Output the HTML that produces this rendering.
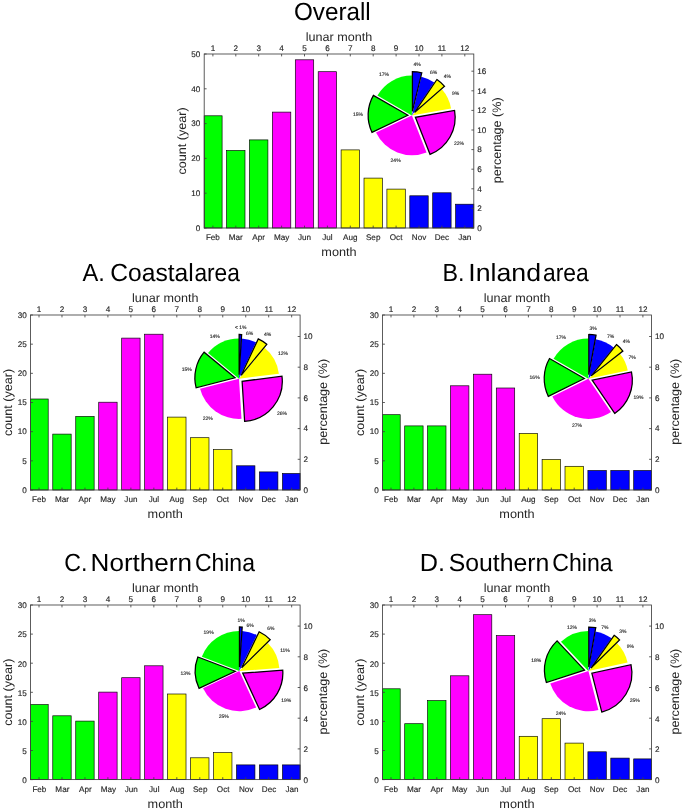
<!DOCTYPE html>
<html>
<head>
<meta charset="utf-8">
<title>Monthly counts</title>
<style>
html,body{margin:0;padding:0;background:#fff;}
svg{display:block;filter:blur(0.35px);}
text{font-family:"Liberation Sans", sans-serif;text-rendering:geometricPrecision;}
</style>
</head>
<body>
<svg width="685" height="811" viewBox="0 0 685 811" font-family='"Liberation Sans", sans-serif'>
<rect width="685" height="811" fill="#fff"/>
<!-- panel Overall -->
<rect x="204.2" y="115.8" width="17.9" height="112.2" fill="#00ff00" stroke="#000" stroke-width="0.65"/>
<rect x="226.6" y="150.5" width="18.4" height="77.5" fill="#00ff00" stroke="#000" stroke-width="0.65"/>
<rect x="249.5" y="139.9" width="18.4" height="88.1" fill="#00ff00" stroke="#000" stroke-width="0.65"/>
<rect x="272.4" y="112.1" width="18.4" height="115.9" fill="#ff00ff" stroke="#000" stroke-width="0.65"/>
<rect x="295.3" y="59.8" width="18.4" height="168.2" fill="#ff00ff" stroke="#000" stroke-width="0.65"/>
<rect x="318.2" y="71.7" width="18.4" height="156.3" fill="#ff00ff" stroke="#000" stroke-width="0.65"/>
<rect x="341.1" y="149.9" width="18.4" height="78.1" fill="#ffff00" stroke="#000" stroke-width="0.65"/>
<rect x="364" y="178.1" width="18.4" height="49.9" fill="#ffff00" stroke="#000" stroke-width="0.65"/>
<rect x="386.9" y="189.1" width="18.4" height="38.9" fill="#ffff00" stroke="#000" stroke-width="0.65"/>
<rect x="409.8" y="195.8" width="18.4" height="32.2" fill="#0000ff" stroke="#000" stroke-width="0.65"/>
<rect x="432.7" y="192.8" width="18.4" height="35.2" fill="#0000ff" stroke="#000" stroke-width="0.65"/>
<rect x="455.6" y="204.2" width="18.2" height="23.8" fill="#0000ff" stroke="#000" stroke-width="0.65"/>
<path d="M411.9 115.4L411.9 75.6A39.8 39.8 0 0 0 377.39 95.57Z" fill="#00ff00"/>
<path d="M411.9 115.4L376 132.57A39.8 39.8 0 0 0 426.55 152.41Z" fill="#ff00ff"/>
<path d="M411.9 115.4L451.09 108.43A39.8 39.8 0 0 0 441.92 89.27Z" fill="#ffff00"/>
<path d="M411.9 115.4L434.27 82.48A39.8 39.8 0 0 0 421.31 76.73Z" fill="#0000ff"/>
<path d="M407.92 115.25L373.41 95.42A39.8 39.8 0 0 0 372.02 132.42Z" fill="#00ff00" stroke="#000" stroke-width="1.25" stroke-linejoin="miter"/>
<path d="M415.38 117.34L430.03 154.34A39.8 39.8 0 0 0 454.56 110.37Z" fill="#ff00ff" stroke="#000" stroke-width="1.25" stroke-linejoin="miter"/>
<path d="M414.54 112.42L444.56 86.29A39.8 39.8 0 0 0 436.91 79.51Z" fill="#ffff00" stroke="#000" stroke-width="1.25" stroke-linejoin="miter"/>
<path d="M412.37 111.45L421.79 72.78A39.8 39.8 0 0 0 412.37 71.65Z" fill="#0000ff" stroke="#000" stroke-width="1.25" stroke-linejoin="miter"/>
<rect x="204.2" y="54" width="269.6" height="174" fill="none" stroke="#404040" stroke-width="0.85"/>
<path d="M212.9 228v-2.4M212.9 54v2.4M235.8 228v-2.4M235.8 54v2.4M258.7 228v-2.4M258.7 54v2.4M281.6 228v-2.4M281.6 54v2.4M304.5 228v-2.4M304.5 54v2.4M327.4 228v-2.4M327.4 54v2.4M350.3 228v-2.4M350.3 54v2.4M373.2 228v-2.4M373.2 54v2.4M396.1 228v-2.4M396.1 54v2.4M419 228v-2.4M419 54v2.4M441.9 228v-2.4M441.9 54v2.4M464.8 228v-2.4M464.8 54v2.4M204.2 228h2.4M204.2 193.2h2.4M204.2 158.4h2.4M204.2 123.6h2.4M204.2 88.8h2.4M204.2 54h2.4M473.8 228h-2.4M473.8 208.4h-2.4M473.8 188.8h-2.4M473.8 169.2h-2.4M473.8 149.6h-2.4M473.8 130h-2.4M473.8 110.4h-2.4M473.8 90.8h-2.4M473.8 71.2h-2.4" stroke="#404040" stroke-width="0.85" fill="none"/>
<!-- panel A -->
<rect x="30.5" y="399" width="17.7" height="91" fill="#00ff00" stroke="#000" stroke-width="0.65"/>
<rect x="52.77" y="434.1" width="18.4" height="55.9" fill="#00ff00" stroke="#000" stroke-width="0.65"/>
<rect x="75.74" y="416.4" width="18.4" height="73.6" fill="#00ff00" stroke="#000" stroke-width="0.65"/>
<rect x="98.71" y="402.2" width="18.4" height="87.8" fill="#ff00ff" stroke="#000" stroke-width="0.65"/>
<rect x="121.68" y="338.1" width="18.4" height="151.9" fill="#ff00ff" stroke="#000" stroke-width="0.65"/>
<rect x="144.65" y="334.2" width="18.4" height="155.8" fill="#ff00ff" stroke="#000" stroke-width="0.65"/>
<rect x="167.62" y="417.1" width="18.4" height="72.9" fill="#ffff00" stroke="#000" stroke-width="0.65"/>
<rect x="190.59" y="437.7" width="18.4" height="52.3" fill="#ffff00" stroke="#000" stroke-width="0.65"/>
<rect x="213.56" y="449.6" width="18.4" height="40.4" fill="#ffff00" stroke="#000" stroke-width="0.65"/>
<rect x="236.53" y="465.8" width="18.4" height="24.2" fill="#0000ff" stroke="#000" stroke-width="0.65"/>
<rect x="259.5" y="471.9" width="18.4" height="18.1" fill="#0000ff" stroke="#000" stroke-width="0.65"/>
<rect x="282.47" y="473.5" width="17.63" height="16.5" fill="#0000ff" stroke="#000" stroke-width="0.65"/>
<path d="M239 378.7L239 338.5A40.2 40.2 0 0 0 208.03 353.08Z" fill="#00ff00"/>
<path d="M239 378.7L200.06 388.7A40.2 40.2 0 0 0 241.52 418.82Z" fill="#ff00ff"/>
<path d="M239 378.7L278.88 373.66A40.2 40.2 0 0 0 264.62 347.73Z" fill="#ffff00"/>
<path d="M239 378.7L256.12 342.33A40.2 40.2 0 0 0 241.52 338.58Z" fill="#0000ff"/>
<path d="M235.08 377.82L204.1 352.2A40.2 40.2 0 0 0 196.14 387.82Z" fill="#00ff00" stroke="#000" stroke-width="1.25" stroke-linejoin="miter"/>
<path d="M242.1 381.26L244.62 421.38A40.2 40.2 0 0 0 281.98 376.22Z" fill="#ff00ff" stroke="#000" stroke-width="1.25" stroke-linejoin="miter"/>
<path d="M241.15 375.31L266.78 344.33A40.2 40.2 0 0 0 258.27 338.93Z" fill="#ffff00" stroke="#000" stroke-width="1.25" stroke-linejoin="miter"/>
<path d="M239.13 374.68L241.65 334.56A40.2 40.2 0 0 0 239.13 334.48Z" fill="#0000ff" stroke="#000" stroke-width="1.25" stroke-linejoin="miter"/>
<rect x="30.5" y="315" width="269.6" height="175" fill="none" stroke="#404040" stroke-width="0.85"/>
<path d="M39 490v-2.4M39 315v2.4M61.97 490v-2.4M61.97 315v2.4M84.94 490v-2.4M84.94 315v2.4M107.91 490v-2.4M107.91 315v2.4M130.88 490v-2.4M130.88 315v2.4M153.85 490v-2.4M153.85 315v2.4M176.82 490v-2.4M176.82 315v2.4M199.79 490v-2.4M199.79 315v2.4M222.76 490v-2.4M222.76 315v2.4M245.73 490v-2.4M245.73 315v2.4M268.7 490v-2.4M268.7 315v2.4M291.67 490v-2.4M291.67 315v2.4M30.5 490h2.4M30.5 460.83h2.4M30.5 431.67h2.4M30.5 402.5h2.4M30.5 373.33h2.4M30.5 344.17h2.4M30.5 315h2.4M300.1 490h-2.4M300.1 459.3h-2.4M300.1 428.6h-2.4M300.1 397.9h-2.4M300.1 367.2h-2.4M300.1 336.5h-2.4" stroke="#404040" stroke-width="0.85" fill="none"/>
<!-- panel B -->
<rect x="382.5" y="414.7" width="17.7" height="75.3" fill="#00ff00" stroke="#000" stroke-width="0.65"/>
<rect x="404.7" y="425.9" width="18.4" height="64.1" fill="#00ff00" stroke="#000" stroke-width="0.65"/>
<rect x="427.6" y="425.9" width="18.4" height="64.1" fill="#00ff00" stroke="#000" stroke-width="0.65"/>
<rect x="450.5" y="385.8" width="18.4" height="104.2" fill="#ff00ff" stroke="#000" stroke-width="0.65"/>
<rect x="473.4" y="374.2" width="18.4" height="115.8" fill="#ff00ff" stroke="#000" stroke-width="0.65"/>
<rect x="496.3" y="388" width="18.4" height="102" fill="#ff00ff" stroke="#000" stroke-width="0.65"/>
<rect x="519.2" y="433.5" width="18.4" height="56.5" fill="#ffff00" stroke="#000" stroke-width="0.65"/>
<rect x="542.1" y="459.5" width="18.4" height="30.5" fill="#ffff00" stroke="#000" stroke-width="0.65"/>
<rect x="565" y="466.3" width="18.4" height="23.7" fill="#ffff00" stroke="#000" stroke-width="0.65"/>
<rect x="587.9" y="470.5" width="18.4" height="19.5" fill="#0000ff" stroke="#000" stroke-width="0.65"/>
<rect x="610.8" y="470.5" width="18.4" height="19.5" fill="#0000ff" stroke="#000" stroke-width="0.65"/>
<rect x="633.7" y="470.5" width="17.8" height="19.5" fill="#0000ff" stroke="#000" stroke-width="0.65"/>
<path d="M588.4 378.7L588.4 338.5A40.2 40.2 0 0 0 553.54 358.67Z" fill="#00ff00"/>
<path d="M588.4 378.7L552.36 396.5A40.2 40.2 0 0 0 611 411.95Z" fill="#ff00ff"/>
<path d="M588.4 378.7L627.74 370.42A40.2 40.2 0 0 0 620.01 353.86Z" fill="#ffff00"/>
<path d="M588.4 378.7L613.63 347.41A40.2 40.2 0 0 0 595.68 339.17Z" fill="#0000ff"/>
<path d="M584.38 378.57L549.53 358.55A40.2 40.2 0 0 0 548.34 396.37Z" fill="#00ff00" stroke="#000" stroke-width="1.25" stroke-linejoin="miter"/>
<path d="M592.13 380.2L614.72 413.45A40.2 40.2 0 0 0 631.47 371.93Z" fill="#ff00ff" stroke="#000" stroke-width="1.25" stroke-linejoin="miter"/>
<path d="M591.26 375.88L622.87 351.04A40.2 40.2 0 0 0 616.49 344.58Z" fill="#ffff00" stroke="#000" stroke-width="1.25" stroke-linejoin="miter"/>
<path d="M588.77 374.7L596.05 335.16A40.2 40.2 0 0 0 588.77 334.5Z" fill="#0000ff" stroke="#000" stroke-width="1.25" stroke-linejoin="miter"/>
<rect x="382.5" y="315" width="269" height="175" fill="none" stroke="#404040" stroke-width="0.85"/>
<path d="M391 490v-2.4M391 315v2.4M413.9 490v-2.4M413.9 315v2.4M436.8 490v-2.4M436.8 315v2.4M459.7 490v-2.4M459.7 315v2.4M482.6 490v-2.4M482.6 315v2.4M505.5 490v-2.4M505.5 315v2.4M528.4 490v-2.4M528.4 315v2.4M551.3 490v-2.4M551.3 315v2.4M574.2 490v-2.4M574.2 315v2.4M597.1 490v-2.4M597.1 315v2.4M620 490v-2.4M620 315v2.4M642.9 490v-2.4M642.9 315v2.4M382.5 490h2.4M382.5 460.83h2.4M382.5 431.67h2.4M382.5 402.5h2.4M382.5 373.33h2.4M382.5 344.17h2.4M382.5 315h2.4M651.5 490h-2.4M651.5 459.3h-2.4M651.5 428.6h-2.4M651.5 397.9h-2.4M651.5 367.2h-2.4M651.5 336.5h-2.4" stroke="#404040" stroke-width="0.85" fill="none"/>
<!-- panel C -->
<rect x="30.5" y="704.6" width="17.7" height="75" fill="#00ff00" stroke="#000" stroke-width="0.65"/>
<rect x="52.77" y="715.8" width="18.4" height="63.8" fill="#00ff00" stroke="#000" stroke-width="0.65"/>
<rect x="75.74" y="721.1" width="18.4" height="58.5" fill="#00ff00" stroke="#000" stroke-width="0.65"/>
<rect x="98.71" y="692.1" width="18.4" height="87.5" fill="#ff00ff" stroke="#000" stroke-width="0.65"/>
<rect x="121.68" y="677.7" width="18.4" height="101.9" fill="#ff00ff" stroke="#000" stroke-width="0.65"/>
<rect x="144.65" y="665.8" width="18.4" height="113.8" fill="#ff00ff" stroke="#000" stroke-width="0.65"/>
<rect x="167.62" y="694" width="18.4" height="85.6" fill="#ffff00" stroke="#000" stroke-width="0.65"/>
<rect x="190.59" y="757.8" width="18.4" height="21.8" fill="#ffff00" stroke="#000" stroke-width="0.65"/>
<rect x="213.56" y="752.6" width="18.4" height="27" fill="#ffff00" stroke="#000" stroke-width="0.65"/>
<rect x="236.53" y="764.9" width="18.4" height="14.7" fill="#0000ff" stroke="#000" stroke-width="0.65"/>
<rect x="259.5" y="764.9" width="18.4" height="14.7" fill="#0000ff" stroke="#000" stroke-width="0.65"/>
<rect x="282.47" y="764.9" width="17.63" height="14.7" fill="#0000ff" stroke="#000" stroke-width="0.65"/>
<path d="M239.3 671.1L239.3 631A40.1 40.1 0 0 0 201.83 656.81Z" fill="#00ff00"/>
<path d="M239.3 671.1L203.02 688.17A40.1 40.1 0 0 0 256.15 707.49Z" fill="#ff00ff"/>
<path d="M239.3 671.1L279.29 668.08A40.1 40.1 0 0 0 267.83 642.92Z" fill="#ffff00"/>
<path d="M239.3 671.1L256.83 635.03A40.1 40.1 0 0 0 242.07 631.1Z" fill="#0000ff"/>
<path d="M235.29 671.25L197.83 656.96A40.1 40.1 0 0 0 199.01 688.32Z" fill="#00ff00" stroke="#000" stroke-width="1.25" stroke-linejoin="miter"/>
<path d="M242.76 673.13L259.6 709.52A40.1 40.1 0 0 0 282.74 670.11Z" fill="#ff00ff" stroke="#000" stroke-width="1.25" stroke-linejoin="miter"/>
<path d="M241.64 667.84L270.17 639.66A40.1 40.1 0 0 0 259.16 631.77Z" fill="#ffff00" stroke="#000" stroke-width="1.25" stroke-linejoin="miter"/>
<path d="M239.44 667.09L242.21 627.09A40.1 40.1 0 0 0 239.44 626.99Z" fill="#0000ff" stroke="#000" stroke-width="1.25" stroke-linejoin="miter"/>
<rect x="30.5" y="605" width="269.6" height="174.6" fill="none" stroke="#404040" stroke-width="0.85"/>
<path d="M39 779.6v-2.4M39 605v2.4M61.97 779.6v-2.4M61.97 605v2.4M84.94 779.6v-2.4M84.94 605v2.4M107.91 779.6v-2.4M107.91 605v2.4M130.88 779.6v-2.4M130.88 605v2.4M153.85 779.6v-2.4M153.85 605v2.4M176.82 779.6v-2.4M176.82 605v2.4M199.79 779.6v-2.4M199.79 605v2.4M222.76 779.6v-2.4M222.76 605v2.4M245.73 779.6v-2.4M245.73 605v2.4M268.7 779.6v-2.4M268.7 605v2.4M291.67 779.6v-2.4M291.67 605v2.4M30.5 779.6h2.4M30.5 750.5h2.4M30.5 721.4h2.4M30.5 692.3h2.4M30.5 663.2h2.4M30.5 634.1h2.4M30.5 605h2.4M300.1 779.6h-2.4M300.1 748.9h-2.4M300.1 718.2h-2.4M300.1 687.5h-2.4M300.1 656.8h-2.4M300.1 626.1h-2.4" stroke="#404040" stroke-width="0.85" fill="none"/>
<!-- panel D -->
<rect x="382.5" y="688.8" width="17.7" height="90.8" fill="#00ff00" stroke="#000" stroke-width="0.65"/>
<rect x="404.7" y="723.7" width="18.4" height="55.9" fill="#00ff00" stroke="#000" stroke-width="0.65"/>
<rect x="427.6" y="700.6" width="18.4" height="79" fill="#00ff00" stroke="#000" stroke-width="0.65"/>
<rect x="450.5" y="675.8" width="18.4" height="103.8" fill="#ff00ff" stroke="#000" stroke-width="0.65"/>
<rect x="473.4" y="614.7" width="18.4" height="164.9" fill="#ff00ff" stroke="#000" stroke-width="0.65"/>
<rect x="496.3" y="635.6" width="18.4" height="144" fill="#ff00ff" stroke="#000" stroke-width="0.65"/>
<rect x="519.2" y="736.3" width="18.4" height="43.3" fill="#ffff00" stroke="#000" stroke-width="0.65"/>
<rect x="542.1" y="718.7" width="18.4" height="60.9" fill="#ffff00" stroke="#000" stroke-width="0.65"/>
<rect x="565" y="743.1" width="18.4" height="36.5" fill="#ffff00" stroke="#000" stroke-width="0.65"/>
<rect x="587.9" y="751.8" width="18.4" height="27.8" fill="#0000ff" stroke="#000" stroke-width="0.65"/>
<rect x="610.8" y="758.1" width="18.4" height="21.5" fill="#0000ff" stroke="#000" stroke-width="0.65"/>
<rect x="633.7" y="758.9" width="17.8" height="20.7" fill="#0000ff" stroke="#000" stroke-width="0.65"/>
<path d="M588.4 671.1L588.4 631A40.1 40.1 0 0 0 560.95 641.87Z" fill="#00ff00"/>
<path d="M588.4 671.1L550.26 683.49A40.1 40.1 0 0 0 598.37 709.94Z" fill="#ff00ff"/>
<path d="M588.4 671.1L627.59 662.6A40.1 40.1 0 0 0 616.93 642.92Z" fill="#ffff00"/>
<path d="M588.4 671.1L611.56 638.36A40.1 40.1 0 0 0 595.42 631.62Z" fill="#0000ff"/>
<path d="M584.52 670.1L557.07 640.87A40.1 40.1 0 0 0 546.38 682.49Z" fill="#00ff00" stroke="#000" stroke-width="1.25" stroke-linejoin="miter"/>
<path d="M591.81 673.21L601.78 712.05A40.1 40.1 0 0 0 631 664.7Z" fill="#ff00ff" stroke="#000" stroke-width="1.25" stroke-linejoin="miter"/>
<path d="M590.99 668.04L619.53 639.87A40.1 40.1 0 0 0 614.16 635.31Z" fill="#ffff00" stroke="#000" stroke-width="1.25" stroke-linejoin="miter"/>
<path d="M588.75 667.11L595.77 627.62A40.1 40.1 0 0 0 588.75 627.01Z" fill="#0000ff" stroke="#000" stroke-width="1.25" stroke-linejoin="miter"/>
<rect x="382.5" y="605" width="269" height="174.6" fill="none" stroke="#404040" stroke-width="0.85"/>
<path d="M391 779.6v-2.4M391 605v2.4M413.9 779.6v-2.4M413.9 605v2.4M436.8 779.6v-2.4M436.8 605v2.4M459.7 779.6v-2.4M459.7 605v2.4M482.6 779.6v-2.4M482.6 605v2.4M505.5 779.6v-2.4M505.5 605v2.4M528.4 779.6v-2.4M528.4 605v2.4M551.3 779.6v-2.4M551.3 605v2.4M574.2 779.6v-2.4M574.2 605v2.4M597.1 779.6v-2.4M597.1 605v2.4M620 779.6v-2.4M620 605v2.4M642.9 779.6v-2.4M642.9 605v2.4M382.5 779.6h2.4M382.5 750.5h2.4M382.5 721.4h2.4M382.5 692.3h2.4M382.5 663.2h2.4M382.5 634.1h2.4M382.5 605h2.4M651.5 779.6h-2.4M651.5 748.9h-2.4M651.5 718.2h-2.4M651.5 687.5h-2.4M651.5 656.8h-2.4M651.5 626.1h-2.4" stroke="#404040" stroke-width="0.85" fill="none"/>
<g style="will-change:transform;filter:grayscale(1)">
<text x="417.2" y="66.4" font-size="5" text-anchor="middle" fill="#1a1a1a" stroke="#1a1a1a" stroke-width="0.12">4%</text>
<text x="433.5" y="74" font-size="5" text-anchor="middle" fill="#1a1a1a" stroke="#1a1a1a" stroke-width="0.12">6%</text>
<text x="447.3" y="78.2" font-size="5" text-anchor="middle" fill="#1a1a1a" stroke="#1a1a1a" stroke-width="0.12">4%</text>
<text x="455.7" y="95.3" font-size="5" text-anchor="middle" fill="#1a1a1a" stroke="#1a1a1a" stroke-width="0.12">9%</text>
<text x="458.9" y="144.9" font-size="5" text-anchor="middle" fill="#1a1a1a" stroke="#1a1a1a" stroke-width="0.12">22%</text>
<text x="395.6" y="162.1" font-size="5" text-anchor="middle" fill="#1a1a1a" stroke="#1a1a1a" stroke-width="0.12">24%</text>
<text x="358" y="116.1" font-size="5" text-anchor="middle" fill="#1a1a1a" stroke="#1a1a1a" stroke-width="0.12">15%</text>
<text x="383.9" y="75.7" font-size="5" text-anchor="middle" fill="#1a1a1a" stroke="#1a1a1a" stroke-width="0.12">17%</text>
<text x="200.4" y="230.8" font-size="8.15" text-anchor="end" fill="#262626" stroke="#262626" stroke-width="0.15">0</text>
<text x="200.4" y="196" font-size="8.15" text-anchor="end" fill="#262626" stroke="#262626" stroke-width="0.15">10</text>
<text x="200.4" y="161.2" font-size="8.15" text-anchor="end" fill="#262626" stroke="#262626" stroke-width="0.15">20</text>
<text x="200.4" y="126.4" font-size="8.15" text-anchor="end" fill="#262626" stroke="#262626" stroke-width="0.15">30</text>
<text x="200.4" y="91.6" font-size="8.15" text-anchor="end" fill="#262626" stroke="#262626" stroke-width="0.15">40</text>
<text x="200.4" y="56.8" font-size="8.15" text-anchor="end" fill="#262626" stroke="#262626" stroke-width="0.15">50</text>
<text x="477.2" y="230.8" font-size="8.15" text-anchor="start" fill="#262626" stroke="#262626" stroke-width="0.15">0</text>
<text x="477.2" y="211.2" font-size="8.15" text-anchor="start" fill="#262626" stroke="#262626" stroke-width="0.15">2</text>
<text x="477.2" y="191.6" font-size="8.15" text-anchor="start" fill="#262626" stroke="#262626" stroke-width="0.15">4</text>
<text x="477.2" y="172" font-size="8.15" text-anchor="start" fill="#262626" stroke="#262626" stroke-width="0.15">6</text>
<text x="477.2" y="152.4" font-size="8.15" text-anchor="start" fill="#262626" stroke="#262626" stroke-width="0.15">8</text>
<text x="477.2" y="132.8" font-size="8.15" text-anchor="start" fill="#262626" stroke="#262626" stroke-width="0.15">10</text>
<text x="477.2" y="113.2" font-size="8.15" text-anchor="start" fill="#262626" stroke="#262626" stroke-width="0.15">12</text>
<text x="477.2" y="93.6" font-size="8.15" text-anchor="start" fill="#262626" stroke="#262626" stroke-width="0.15">14</text>
<text x="477.2" y="74" font-size="8.15" text-anchor="start" fill="#262626" stroke="#262626" stroke-width="0.15">16</text>
<text x="212.9" y="240" font-size="8.15" text-anchor="middle" fill="#262626" stroke="#262626" stroke-width="0.15">Feb</text>
<text x="212.9" y="50.6" font-size="8.15" text-anchor="middle" fill="#262626" stroke="#262626" stroke-width="0.15">1</text>
<text x="235.8" y="240" font-size="8.15" text-anchor="middle" fill="#262626" stroke="#262626" stroke-width="0.15">Mar</text>
<text x="235.8" y="50.6" font-size="8.15" text-anchor="middle" fill="#262626" stroke="#262626" stroke-width="0.15">2</text>
<text x="258.7" y="240" font-size="8.15" text-anchor="middle" fill="#262626" stroke="#262626" stroke-width="0.15">Apr</text>
<text x="258.7" y="50.6" font-size="8.15" text-anchor="middle" fill="#262626" stroke="#262626" stroke-width="0.15">3</text>
<text x="281.6" y="240" font-size="8.15" text-anchor="middle" fill="#262626" stroke="#262626" stroke-width="0.15">May</text>
<text x="281.6" y="50.6" font-size="8.15" text-anchor="middle" fill="#262626" stroke="#262626" stroke-width="0.15">4</text>
<text x="304.5" y="240" font-size="8.15" text-anchor="middle" fill="#262626" stroke="#262626" stroke-width="0.15">Jun</text>
<text x="304.5" y="50.6" font-size="8.15" text-anchor="middle" fill="#262626" stroke="#262626" stroke-width="0.15">5</text>
<text x="327.4" y="240" font-size="8.15" text-anchor="middle" fill="#262626" stroke="#262626" stroke-width="0.15">Jul</text>
<text x="327.4" y="50.6" font-size="8.15" text-anchor="middle" fill="#262626" stroke="#262626" stroke-width="0.15">6</text>
<text x="350.3" y="240" font-size="8.15" text-anchor="middle" fill="#262626" stroke="#262626" stroke-width="0.15">Aug</text>
<text x="350.3" y="50.6" font-size="8.15" text-anchor="middle" fill="#262626" stroke="#262626" stroke-width="0.15">7</text>
<text x="373.2" y="240" font-size="8.15" text-anchor="middle" fill="#262626" stroke="#262626" stroke-width="0.15">Sep</text>
<text x="373.2" y="50.6" font-size="8.15" text-anchor="middle" fill="#262626" stroke="#262626" stroke-width="0.15">8</text>
<text x="396.1" y="240" font-size="8.15" text-anchor="middle" fill="#262626" stroke="#262626" stroke-width="0.15">Oct</text>
<text x="396.1" y="50.6" font-size="8.15" text-anchor="middle" fill="#262626" stroke="#262626" stroke-width="0.15">9</text>
<text x="419" y="240" font-size="8.15" text-anchor="middle" fill="#262626" stroke="#262626" stroke-width="0.15">Nov</text>
<text x="419" y="50.6" font-size="8.15" text-anchor="middle" fill="#262626" stroke="#262626" stroke-width="0.15">10</text>
<text x="441.9" y="240" font-size="8.15" text-anchor="middle" fill="#262626" stroke="#262626" stroke-width="0.15">Dec</text>
<text x="441.9" y="50.6" font-size="8.15" text-anchor="middle" fill="#262626" stroke="#262626" stroke-width="0.15">11</text>
<text x="464.8" y="240" font-size="8.15" text-anchor="middle" fill="#262626" stroke="#262626" stroke-width="0.15">Jan</text>
<text x="464.8" y="50.6" font-size="8.15" text-anchor="middle" fill="#262626" stroke="#262626" stroke-width="0.15">12</text>
<text x="321.34" y="256.3" font-size="12.2" text-anchor="start" fill="#262626" textLength="35.31" lengthAdjust="spacingAndGlyphs">month</text>
<text x="305.75" y="41" font-size="12.2" text-anchor="start" fill="#262626" textLength="66.48" lengthAdjust="spacingAndGlyphs">lunar month</text>
<text x="185.6" y="174.43" font-size="12.2" text-anchor="start" fill="#262626" transform="rotate(-90 185.6 174.43)" textLength="67.13" lengthAdjust="spacingAndGlyphs">count (year)</text>
<text x="501" y="183.22" font-size="12.2" text-anchor="start" fill="#262626" transform="rotate(-90 501 183.22)" textLength="85.8" lengthAdjust="spacingAndGlyphs">percentage (%)</text>
<text x="293.95" y="20.4" font-size="24.8" text-anchor="start" fill="#000" textLength="76.79" lengthAdjust="spacingAndGlyphs">Overall</text>
<text x="240.8" y="329.3" font-size="5" text-anchor="middle" fill="#1a1a1a" stroke="#1a1a1a" stroke-width="0.12">&lt; 1%</text>
<text x="249.6" y="334.6" font-size="5" text-anchor="middle" fill="#1a1a1a" stroke="#1a1a1a" stroke-width="0.12">6%</text>
<text x="267.6" y="335.8" font-size="5" text-anchor="middle" fill="#1a1a1a" stroke="#1a1a1a" stroke-width="0.12">4%</text>
<text x="283" y="354.7" font-size="5" text-anchor="middle" fill="#1a1a1a" stroke="#1a1a1a" stroke-width="0.12">12%</text>
<text x="282" y="414.7" font-size="5" text-anchor="middle" fill="#1a1a1a" stroke="#1a1a1a" stroke-width="0.12">26%</text>
<text x="207.7" y="420.3" font-size="5" text-anchor="middle" fill="#1a1a1a" stroke="#1a1a1a" stroke-width="0.12">22%</text>
<text x="186.7" y="370.9" font-size="5" text-anchor="middle" fill="#1a1a1a" stroke="#1a1a1a" stroke-width="0.12">15%</text>
<text x="214.7" y="337.6" font-size="5" text-anchor="middle" fill="#1a1a1a" stroke="#1a1a1a" stroke-width="0.12">14%</text>
<text x="26.7" y="492.8" font-size="8.15" text-anchor="end" fill="#262626" stroke="#262626" stroke-width="0.15">0</text>
<text x="26.7" y="463.63" font-size="8.15" text-anchor="end" fill="#262626" stroke="#262626" stroke-width="0.15">5</text>
<text x="26.7" y="434.47" font-size="8.15" text-anchor="end" fill="#262626" stroke="#262626" stroke-width="0.15">10</text>
<text x="26.7" y="405.3" font-size="8.15" text-anchor="end" fill="#262626" stroke="#262626" stroke-width="0.15">15</text>
<text x="26.7" y="376.13" font-size="8.15" text-anchor="end" fill="#262626" stroke="#262626" stroke-width="0.15">20</text>
<text x="26.7" y="346.97" font-size="8.15" text-anchor="end" fill="#262626" stroke="#262626" stroke-width="0.15">25</text>
<text x="26.7" y="317.8" font-size="8.15" text-anchor="end" fill="#262626" stroke="#262626" stroke-width="0.15">30</text>
<text x="303.5" y="492.8" font-size="8.15" text-anchor="start" fill="#262626" stroke="#262626" stroke-width="0.15">0</text>
<text x="303.5" y="462.1" font-size="8.15" text-anchor="start" fill="#262626" stroke="#262626" stroke-width="0.15">2</text>
<text x="303.5" y="431.4" font-size="8.15" text-anchor="start" fill="#262626" stroke="#262626" stroke-width="0.15">4</text>
<text x="303.5" y="400.7" font-size="8.15" text-anchor="start" fill="#262626" stroke="#262626" stroke-width="0.15">6</text>
<text x="303.5" y="370" font-size="8.15" text-anchor="start" fill="#262626" stroke="#262626" stroke-width="0.15">8</text>
<text x="303.5" y="339.3" font-size="8.15" text-anchor="start" fill="#262626" stroke="#262626" stroke-width="0.15">10</text>
<text x="39" y="501.7" font-size="8.15" text-anchor="middle" fill="#262626" stroke="#262626" stroke-width="0.15">Feb</text>
<text x="39" y="311.6" font-size="8.15" text-anchor="middle" fill="#262626" stroke="#262626" stroke-width="0.15">1</text>
<text x="61.97" y="501.7" font-size="8.15" text-anchor="middle" fill="#262626" stroke="#262626" stroke-width="0.15">Mar</text>
<text x="61.97" y="311.6" font-size="8.15" text-anchor="middle" fill="#262626" stroke="#262626" stroke-width="0.15">2</text>
<text x="84.94" y="501.7" font-size="8.15" text-anchor="middle" fill="#262626" stroke="#262626" stroke-width="0.15">Apr</text>
<text x="84.94" y="311.6" font-size="8.15" text-anchor="middle" fill="#262626" stroke="#262626" stroke-width="0.15">3</text>
<text x="107.91" y="501.7" font-size="8.15" text-anchor="middle" fill="#262626" stroke="#262626" stroke-width="0.15">May</text>
<text x="107.91" y="311.6" font-size="8.15" text-anchor="middle" fill="#262626" stroke="#262626" stroke-width="0.15">4</text>
<text x="130.88" y="501.7" font-size="8.15" text-anchor="middle" fill="#262626" stroke="#262626" stroke-width="0.15">Jun</text>
<text x="130.88" y="311.6" font-size="8.15" text-anchor="middle" fill="#262626" stroke="#262626" stroke-width="0.15">5</text>
<text x="153.85" y="501.7" font-size="8.15" text-anchor="middle" fill="#262626" stroke="#262626" stroke-width="0.15">Jul</text>
<text x="153.85" y="311.6" font-size="8.15" text-anchor="middle" fill="#262626" stroke="#262626" stroke-width="0.15">6</text>
<text x="176.82" y="501.7" font-size="8.15" text-anchor="middle" fill="#262626" stroke="#262626" stroke-width="0.15">Aug</text>
<text x="176.82" y="311.6" font-size="8.15" text-anchor="middle" fill="#262626" stroke="#262626" stroke-width="0.15">7</text>
<text x="199.79" y="501.7" font-size="8.15" text-anchor="middle" fill="#262626" stroke="#262626" stroke-width="0.15">Sep</text>
<text x="199.79" y="311.6" font-size="8.15" text-anchor="middle" fill="#262626" stroke="#262626" stroke-width="0.15">8</text>
<text x="222.76" y="501.7" font-size="8.15" text-anchor="middle" fill="#262626" stroke="#262626" stroke-width="0.15">Oct</text>
<text x="222.76" y="311.6" font-size="8.15" text-anchor="middle" fill="#262626" stroke="#262626" stroke-width="0.15">9</text>
<text x="245.73" y="501.7" font-size="8.15" text-anchor="middle" fill="#262626" stroke="#262626" stroke-width="0.15">Nov</text>
<text x="245.73" y="311.6" font-size="8.15" text-anchor="middle" fill="#262626" stroke="#262626" stroke-width="0.15">10</text>
<text x="268.7" y="501.7" font-size="8.15" text-anchor="middle" fill="#262626" stroke="#262626" stroke-width="0.15">Dec</text>
<text x="268.7" y="311.6" font-size="8.15" text-anchor="middle" fill="#262626" stroke="#262626" stroke-width="0.15">11</text>
<text x="291.67" y="501.7" font-size="8.15" text-anchor="middle" fill="#262626" stroke="#262626" stroke-width="0.15">Jan</text>
<text x="291.67" y="311.6" font-size="8.15" text-anchor="middle" fill="#262626" stroke="#262626" stroke-width="0.15">12</text>
<text x="147.64" y="518.3" font-size="12.2" text-anchor="start" fill="#262626" textLength="35.31" lengthAdjust="spacingAndGlyphs">month</text>
<text x="132.05" y="302" font-size="12.2" text-anchor="start" fill="#262626" textLength="66.48" lengthAdjust="spacingAndGlyphs">lunar month</text>
<text x="11.9" y="435.93" font-size="12.2" text-anchor="start" fill="#262626" transform="rotate(-90 11.9 435.93)" textLength="67.13" lengthAdjust="spacingAndGlyphs">count (year)</text>
<text x="327.3" y="444.72" font-size="12.2" text-anchor="start" fill="#262626" transform="rotate(-90 327.3 444.72)" textLength="85.8" lengthAdjust="spacingAndGlyphs">percentage (%)</text>
<text x="82.44" y="280.6" font-size="24.8" text-anchor="start" fill="#000" textLength="22.39" lengthAdjust="spacingAndGlyphs">A.</text>
<text x="110.37" y="280.6" font-size="24.8" text-anchor="start" fill="#000" textLength="83.41" lengthAdjust="spacingAndGlyphs">Coastal</text>
<text x="194.44" y="280.6" font-size="24.8" text-anchor="start" fill="#000" textLength="45.4" lengthAdjust="spacingAndGlyphs">area</text>
<text x="593" y="329.7" font-size="5" text-anchor="middle" fill="#1a1a1a" stroke="#1a1a1a" stroke-width="0.12">3%</text>
<text x="610.5" y="337.6" font-size="5" text-anchor="middle" fill="#1a1a1a" stroke="#1a1a1a" stroke-width="0.12">7%</text>
<text x="626.3" y="343.3" font-size="5" text-anchor="middle" fill="#1a1a1a" stroke="#1a1a1a" stroke-width="0.12">4%</text>
<text x="632.2" y="359.1" font-size="5" text-anchor="middle" fill="#1a1a1a" stroke="#1a1a1a" stroke-width="0.12">7%</text>
<text x="638.5" y="399.2" font-size="5" text-anchor="middle" fill="#1a1a1a" stroke="#1a1a1a" stroke-width="0.12">19%</text>
<text x="577" y="426.9" font-size="5" text-anchor="middle" fill="#1a1a1a" stroke="#1a1a1a" stroke-width="0.12">27%</text>
<text x="534.6" y="379.3" font-size="5" text-anchor="middle" fill="#1a1a1a" stroke="#1a1a1a" stroke-width="0.12">16%</text>
<text x="560.9" y="339.3" font-size="5" text-anchor="middle" fill="#1a1a1a" stroke="#1a1a1a" stroke-width="0.12">17%</text>
<text x="378.7" y="492.8" font-size="8.15" text-anchor="end" fill="#262626" stroke="#262626" stroke-width="0.15">0</text>
<text x="378.7" y="463.63" font-size="8.15" text-anchor="end" fill="#262626" stroke="#262626" stroke-width="0.15">5</text>
<text x="378.7" y="434.47" font-size="8.15" text-anchor="end" fill="#262626" stroke="#262626" stroke-width="0.15">10</text>
<text x="378.7" y="405.3" font-size="8.15" text-anchor="end" fill="#262626" stroke="#262626" stroke-width="0.15">15</text>
<text x="378.7" y="376.13" font-size="8.15" text-anchor="end" fill="#262626" stroke="#262626" stroke-width="0.15">20</text>
<text x="378.7" y="346.97" font-size="8.15" text-anchor="end" fill="#262626" stroke="#262626" stroke-width="0.15">25</text>
<text x="378.7" y="317.8" font-size="8.15" text-anchor="end" fill="#262626" stroke="#262626" stroke-width="0.15">30</text>
<text x="654.9" y="492.8" font-size="8.15" text-anchor="start" fill="#262626" stroke="#262626" stroke-width="0.15">0</text>
<text x="654.9" y="462.1" font-size="8.15" text-anchor="start" fill="#262626" stroke="#262626" stroke-width="0.15">2</text>
<text x="654.9" y="431.4" font-size="8.15" text-anchor="start" fill="#262626" stroke="#262626" stroke-width="0.15">4</text>
<text x="654.9" y="400.7" font-size="8.15" text-anchor="start" fill="#262626" stroke="#262626" stroke-width="0.15">6</text>
<text x="654.9" y="370" font-size="8.15" text-anchor="start" fill="#262626" stroke="#262626" stroke-width="0.15">8</text>
<text x="654.9" y="339.3" font-size="8.15" text-anchor="start" fill="#262626" stroke="#262626" stroke-width="0.15">10</text>
<text x="391" y="501.7" font-size="8.15" text-anchor="middle" fill="#262626" stroke="#262626" stroke-width="0.15">Feb</text>
<text x="391" y="311.6" font-size="8.15" text-anchor="middle" fill="#262626" stroke="#262626" stroke-width="0.15">1</text>
<text x="413.9" y="501.7" font-size="8.15" text-anchor="middle" fill="#262626" stroke="#262626" stroke-width="0.15">Mar</text>
<text x="413.9" y="311.6" font-size="8.15" text-anchor="middle" fill="#262626" stroke="#262626" stroke-width="0.15">2</text>
<text x="436.8" y="501.7" font-size="8.15" text-anchor="middle" fill="#262626" stroke="#262626" stroke-width="0.15">Apr</text>
<text x="436.8" y="311.6" font-size="8.15" text-anchor="middle" fill="#262626" stroke="#262626" stroke-width="0.15">3</text>
<text x="459.7" y="501.7" font-size="8.15" text-anchor="middle" fill="#262626" stroke="#262626" stroke-width="0.15">May</text>
<text x="459.7" y="311.6" font-size="8.15" text-anchor="middle" fill="#262626" stroke="#262626" stroke-width="0.15">4</text>
<text x="482.6" y="501.7" font-size="8.15" text-anchor="middle" fill="#262626" stroke="#262626" stroke-width="0.15">Jun</text>
<text x="482.6" y="311.6" font-size="8.15" text-anchor="middle" fill="#262626" stroke="#262626" stroke-width="0.15">5</text>
<text x="505.5" y="501.7" font-size="8.15" text-anchor="middle" fill="#262626" stroke="#262626" stroke-width="0.15">Jul</text>
<text x="505.5" y="311.6" font-size="8.15" text-anchor="middle" fill="#262626" stroke="#262626" stroke-width="0.15">6</text>
<text x="528.4" y="501.7" font-size="8.15" text-anchor="middle" fill="#262626" stroke="#262626" stroke-width="0.15">Aug</text>
<text x="528.4" y="311.6" font-size="8.15" text-anchor="middle" fill="#262626" stroke="#262626" stroke-width="0.15">7</text>
<text x="551.3" y="501.7" font-size="8.15" text-anchor="middle" fill="#262626" stroke="#262626" stroke-width="0.15">Sep</text>
<text x="551.3" y="311.6" font-size="8.15" text-anchor="middle" fill="#262626" stroke="#262626" stroke-width="0.15">8</text>
<text x="574.2" y="501.7" font-size="8.15" text-anchor="middle" fill="#262626" stroke="#262626" stroke-width="0.15">Oct</text>
<text x="574.2" y="311.6" font-size="8.15" text-anchor="middle" fill="#262626" stroke="#262626" stroke-width="0.15">9</text>
<text x="597.1" y="501.7" font-size="8.15" text-anchor="middle" fill="#262626" stroke="#262626" stroke-width="0.15">Nov</text>
<text x="597.1" y="311.6" font-size="8.15" text-anchor="middle" fill="#262626" stroke="#262626" stroke-width="0.15">10</text>
<text x="620" y="501.7" font-size="8.15" text-anchor="middle" fill="#262626" stroke="#262626" stroke-width="0.15">Dec</text>
<text x="620" y="311.6" font-size="8.15" text-anchor="middle" fill="#262626" stroke="#262626" stroke-width="0.15">11</text>
<text x="642.9" y="501.7" font-size="8.15" text-anchor="middle" fill="#262626" stroke="#262626" stroke-width="0.15">Jan</text>
<text x="642.9" y="311.6" font-size="8.15" text-anchor="middle" fill="#262626" stroke="#262626" stroke-width="0.15">12</text>
<text x="499.34" y="518.3" font-size="12.2" text-anchor="start" fill="#262626" textLength="35.31" lengthAdjust="spacingAndGlyphs">month</text>
<text x="483.75" y="302" font-size="12.2" text-anchor="start" fill="#262626" textLength="66.48" lengthAdjust="spacingAndGlyphs">lunar month</text>
<text x="363.9" y="435.93" font-size="12.2" text-anchor="start" fill="#262626" transform="rotate(-90 363.9 435.93)" textLength="67.13" lengthAdjust="spacingAndGlyphs">count (year)</text>
<text x="678.7" y="444.72" font-size="12.2" text-anchor="start" fill="#262626" transform="rotate(-90 678.7 444.72)" textLength="85.8" lengthAdjust="spacingAndGlyphs">percentage (%)</text>
<text x="442.48" y="281.2" font-size="24.8" text-anchor="start" fill="#000" textLength="22.02" lengthAdjust="spacingAndGlyphs">B.</text>
<text x="468.33" y="281.2" font-size="24.8" text-anchor="start" fill="#000" textLength="72.69" lengthAdjust="spacingAndGlyphs">Inland</text>
<text x="543.03" y="281.2" font-size="24.8" text-anchor="start" fill="#000" textLength="45.71" lengthAdjust="spacingAndGlyphs">area</text>
<text x="241" y="622" font-size="5" text-anchor="middle" fill="#1a1a1a" stroke="#1a1a1a" stroke-width="0.12">1%</text>
<text x="250" y="627.2" font-size="5" text-anchor="middle" fill="#1a1a1a" stroke="#1a1a1a" stroke-width="0.12">6%</text>
<text x="270.8" y="630.2" font-size="5" text-anchor="middle" fill="#1a1a1a" stroke="#1a1a1a" stroke-width="0.12">6%</text>
<text x="285" y="651.7" font-size="5" text-anchor="middle" fill="#1a1a1a" stroke="#1a1a1a" stroke-width="0.12">11%</text>
<text x="286.2" y="701.5" font-size="5" text-anchor="middle" fill="#1a1a1a" stroke="#1a1a1a" stroke-width="0.12">19%</text>
<text x="223.7" y="718" font-size="5" text-anchor="middle" fill="#1a1a1a" stroke="#1a1a1a" stroke-width="0.12">25%</text>
<text x="185.5" y="674.9" font-size="5" text-anchor="middle" fill="#1a1a1a" stroke="#1a1a1a" stroke-width="0.12">13%</text>
<text x="208.6" y="633.7" font-size="5" text-anchor="middle" fill="#1a1a1a" stroke="#1a1a1a" stroke-width="0.12">19%</text>
<text x="26.7" y="782.9" font-size="8.15" text-anchor="end" fill="#262626" stroke="#262626" stroke-width="0.15">0</text>
<text x="26.7" y="753.8" font-size="8.15" text-anchor="end" fill="#262626" stroke="#262626" stroke-width="0.15">5</text>
<text x="26.7" y="724.7" font-size="8.15" text-anchor="end" fill="#262626" stroke="#262626" stroke-width="0.15">10</text>
<text x="26.7" y="695.6" font-size="8.15" text-anchor="end" fill="#262626" stroke="#262626" stroke-width="0.15">15</text>
<text x="26.7" y="666.5" font-size="8.15" text-anchor="end" fill="#262626" stroke="#262626" stroke-width="0.15">20</text>
<text x="26.7" y="637.4" font-size="8.15" text-anchor="end" fill="#262626" stroke="#262626" stroke-width="0.15">25</text>
<text x="26.7" y="608.3" font-size="8.15" text-anchor="end" fill="#262626" stroke="#262626" stroke-width="0.15">30</text>
<text x="303.5" y="782.9" font-size="8.15" text-anchor="start" fill="#262626" stroke="#262626" stroke-width="0.15">0</text>
<text x="303.5" y="752.2" font-size="8.15" text-anchor="start" fill="#262626" stroke="#262626" stroke-width="0.15">2</text>
<text x="303.5" y="721.5" font-size="8.15" text-anchor="start" fill="#262626" stroke="#262626" stroke-width="0.15">4</text>
<text x="303.5" y="690.8" font-size="8.15" text-anchor="start" fill="#262626" stroke="#262626" stroke-width="0.15">6</text>
<text x="303.5" y="660.1" font-size="8.15" text-anchor="start" fill="#262626" stroke="#262626" stroke-width="0.15">8</text>
<text x="303.5" y="629.4" font-size="8.15" text-anchor="start" fill="#262626" stroke="#262626" stroke-width="0.15">10</text>
<text x="39.4" y="792" font-size="8.15" text-anchor="middle" fill="#262626" stroke="#262626" stroke-width="0.15">Feb</text>
<text x="39" y="601.6" font-size="8.15" text-anchor="middle" fill="#262626" stroke="#262626" stroke-width="0.15">1</text>
<text x="62.37" y="792" font-size="8.15" text-anchor="middle" fill="#262626" stroke="#262626" stroke-width="0.15">Mar</text>
<text x="61.97" y="601.6" font-size="8.15" text-anchor="middle" fill="#262626" stroke="#262626" stroke-width="0.15">2</text>
<text x="85.34" y="792" font-size="8.15" text-anchor="middle" fill="#262626" stroke="#262626" stroke-width="0.15">Apr</text>
<text x="84.94" y="601.6" font-size="8.15" text-anchor="middle" fill="#262626" stroke="#262626" stroke-width="0.15">3</text>
<text x="108.31" y="792" font-size="8.15" text-anchor="middle" fill="#262626" stroke="#262626" stroke-width="0.15">May</text>
<text x="107.91" y="601.6" font-size="8.15" text-anchor="middle" fill="#262626" stroke="#262626" stroke-width="0.15">4</text>
<text x="131.28" y="792" font-size="8.15" text-anchor="middle" fill="#262626" stroke="#262626" stroke-width="0.15">Jun</text>
<text x="130.88" y="601.6" font-size="8.15" text-anchor="middle" fill="#262626" stroke="#262626" stroke-width="0.15">5</text>
<text x="154.25" y="792" font-size="8.15" text-anchor="middle" fill="#262626" stroke="#262626" stroke-width="0.15">Jul</text>
<text x="153.85" y="601.6" font-size="8.15" text-anchor="middle" fill="#262626" stroke="#262626" stroke-width="0.15">6</text>
<text x="177.22" y="792" font-size="8.15" text-anchor="middle" fill="#262626" stroke="#262626" stroke-width="0.15">Aug</text>
<text x="176.82" y="601.6" font-size="8.15" text-anchor="middle" fill="#262626" stroke="#262626" stroke-width="0.15">7</text>
<text x="200.19" y="792" font-size="8.15" text-anchor="middle" fill="#262626" stroke="#262626" stroke-width="0.15">Sep</text>
<text x="199.79" y="601.6" font-size="8.15" text-anchor="middle" fill="#262626" stroke="#262626" stroke-width="0.15">8</text>
<text x="223.16" y="792" font-size="8.15" text-anchor="middle" fill="#262626" stroke="#262626" stroke-width="0.15">Oct</text>
<text x="222.76" y="601.6" font-size="8.15" text-anchor="middle" fill="#262626" stroke="#262626" stroke-width="0.15">9</text>
<text x="246.13" y="792" font-size="8.15" text-anchor="middle" fill="#262626" stroke="#262626" stroke-width="0.15">Nov</text>
<text x="245.73" y="601.6" font-size="8.15" text-anchor="middle" fill="#262626" stroke="#262626" stroke-width="0.15">10</text>
<text x="269.1" y="792" font-size="8.15" text-anchor="middle" fill="#262626" stroke="#262626" stroke-width="0.15">Dec</text>
<text x="268.7" y="601.6" font-size="8.15" text-anchor="middle" fill="#262626" stroke="#262626" stroke-width="0.15">11</text>
<text x="292.07" y="792" font-size="8.15" text-anchor="middle" fill="#262626" stroke="#262626" stroke-width="0.15">Jan</text>
<text x="291.67" y="601.6" font-size="8.15" text-anchor="middle" fill="#262626" stroke="#262626" stroke-width="0.15">12</text>
<text x="147.64" y="807.9" font-size="12.2" text-anchor="start" fill="#262626" textLength="35.31" lengthAdjust="spacingAndGlyphs">month</text>
<text x="132.05" y="592" font-size="12.2" text-anchor="start" fill="#262626" textLength="66.48" lengthAdjust="spacingAndGlyphs">lunar month</text>
<text x="11.9" y="725.73" font-size="12.2" text-anchor="start" fill="#262626" transform="rotate(-90 11.9 725.73)" textLength="67.13" lengthAdjust="spacingAndGlyphs">count (year)</text>
<text x="327.3" y="734.52" font-size="12.2" text-anchor="start" fill="#262626" transform="rotate(-90 327.3 734.52)" textLength="85.8" lengthAdjust="spacingAndGlyphs">percentage (%)</text>
<text x="64.24" y="570.7" font-size="24.8" text-anchor="start" fill="#000" textLength="23.14" lengthAdjust="spacingAndGlyphs">C.</text>
<text x="90.55" y="570.7" font-size="24.8" text-anchor="start" fill="#000" textLength="101.47" lengthAdjust="spacingAndGlyphs">Northern</text>
<text x="194.95" y="570.7" font-size="24.8" text-anchor="start" fill="#000" textLength="59.96" lengthAdjust="spacingAndGlyphs">China</text>
<text x="592.4" y="622" font-size="5" text-anchor="middle" fill="#1a1a1a" stroke="#1a1a1a" stroke-width="0.12">3%</text>
<text x="604.9" y="629" font-size="5" text-anchor="middle" fill="#1a1a1a" stroke="#1a1a1a" stroke-width="0.12">7%</text>
<text x="622.8" y="632.8" font-size="5" text-anchor="middle" fill="#1a1a1a" stroke="#1a1a1a" stroke-width="0.12">3%</text>
<text x="630.3" y="647.9" font-size="5" text-anchor="middle" fill="#1a1a1a" stroke="#1a1a1a" stroke-width="0.12">9%</text>
<text x="634.7" y="702.2" font-size="5" text-anchor="middle" fill="#1a1a1a" stroke="#1a1a1a" stroke-width="0.12">25%</text>
<text x="560.7" y="714.8" font-size="5" text-anchor="middle" fill="#1a1a1a" stroke="#1a1a1a" stroke-width="0.12">24%</text>
<text x="536.2" y="661.7" font-size="5" text-anchor="middle" fill="#1a1a1a" stroke="#1a1a1a" stroke-width="0.12">18%</text>
<text x="572" y="629.3" font-size="5" text-anchor="middle" fill="#1a1a1a" stroke="#1a1a1a" stroke-width="0.12">12%</text>
<text x="378.7" y="782.9" font-size="8.15" text-anchor="end" fill="#262626" stroke="#262626" stroke-width="0.15">0</text>
<text x="378.7" y="753.8" font-size="8.15" text-anchor="end" fill="#262626" stroke="#262626" stroke-width="0.15">5</text>
<text x="378.7" y="724.7" font-size="8.15" text-anchor="end" fill="#262626" stroke="#262626" stroke-width="0.15">10</text>
<text x="378.7" y="695.6" font-size="8.15" text-anchor="end" fill="#262626" stroke="#262626" stroke-width="0.15">15</text>
<text x="378.7" y="666.5" font-size="8.15" text-anchor="end" fill="#262626" stroke="#262626" stroke-width="0.15">20</text>
<text x="378.7" y="637.4" font-size="8.15" text-anchor="end" fill="#262626" stroke="#262626" stroke-width="0.15">25</text>
<text x="378.7" y="608.3" font-size="8.15" text-anchor="end" fill="#262626" stroke="#262626" stroke-width="0.15">30</text>
<text x="654.9" y="782.9" font-size="8.15" text-anchor="start" fill="#262626" stroke="#262626" stroke-width="0.15">0</text>
<text x="654.9" y="752.2" font-size="8.15" text-anchor="start" fill="#262626" stroke="#262626" stroke-width="0.15">2</text>
<text x="654.9" y="721.5" font-size="8.15" text-anchor="start" fill="#262626" stroke="#262626" stroke-width="0.15">4</text>
<text x="654.9" y="690.8" font-size="8.15" text-anchor="start" fill="#262626" stroke="#262626" stroke-width="0.15">6</text>
<text x="654.9" y="660.1" font-size="8.15" text-anchor="start" fill="#262626" stroke="#262626" stroke-width="0.15">8</text>
<text x="654.9" y="629.4" font-size="8.15" text-anchor="start" fill="#262626" stroke="#262626" stroke-width="0.15">10</text>
<text x="391" y="791.9" font-size="8.15" text-anchor="middle" fill="#262626" stroke="#262626" stroke-width="0.15">Feb</text>
<text x="391" y="601.6" font-size="8.15" text-anchor="middle" fill="#262626" stroke="#262626" stroke-width="0.15">1</text>
<text x="413.9" y="791.9" font-size="8.15" text-anchor="middle" fill="#262626" stroke="#262626" stroke-width="0.15">Mar</text>
<text x="413.9" y="601.6" font-size="8.15" text-anchor="middle" fill="#262626" stroke="#262626" stroke-width="0.15">2</text>
<text x="436.8" y="791.9" font-size="8.15" text-anchor="middle" fill="#262626" stroke="#262626" stroke-width="0.15">Apr</text>
<text x="436.8" y="601.6" font-size="8.15" text-anchor="middle" fill="#262626" stroke="#262626" stroke-width="0.15">3</text>
<text x="459.7" y="791.9" font-size="8.15" text-anchor="middle" fill="#262626" stroke="#262626" stroke-width="0.15">May</text>
<text x="459.7" y="601.6" font-size="8.15" text-anchor="middle" fill="#262626" stroke="#262626" stroke-width="0.15">4</text>
<text x="482.6" y="791.9" font-size="8.15" text-anchor="middle" fill="#262626" stroke="#262626" stroke-width="0.15">Jun</text>
<text x="482.6" y="601.6" font-size="8.15" text-anchor="middle" fill="#262626" stroke="#262626" stroke-width="0.15">5</text>
<text x="505.5" y="791.9" font-size="8.15" text-anchor="middle" fill="#262626" stroke="#262626" stroke-width="0.15">Jul</text>
<text x="505.5" y="601.6" font-size="8.15" text-anchor="middle" fill="#262626" stroke="#262626" stroke-width="0.15">6</text>
<text x="528.4" y="791.9" font-size="8.15" text-anchor="middle" fill="#262626" stroke="#262626" stroke-width="0.15">Aug</text>
<text x="528.4" y="601.6" font-size="8.15" text-anchor="middle" fill="#262626" stroke="#262626" stroke-width="0.15">7</text>
<text x="551.3" y="791.9" font-size="8.15" text-anchor="middle" fill="#262626" stroke="#262626" stroke-width="0.15">Sep</text>
<text x="551.3" y="601.6" font-size="8.15" text-anchor="middle" fill="#262626" stroke="#262626" stroke-width="0.15">8</text>
<text x="574.2" y="791.9" font-size="8.15" text-anchor="middle" fill="#262626" stroke="#262626" stroke-width="0.15">Oct</text>
<text x="574.2" y="601.6" font-size="8.15" text-anchor="middle" fill="#262626" stroke="#262626" stroke-width="0.15">9</text>
<text x="597.1" y="791.9" font-size="8.15" text-anchor="middle" fill="#262626" stroke="#262626" stroke-width="0.15">Nov</text>
<text x="597.1" y="601.6" font-size="8.15" text-anchor="middle" fill="#262626" stroke="#262626" stroke-width="0.15">10</text>
<text x="620" y="791.9" font-size="8.15" text-anchor="middle" fill="#262626" stroke="#262626" stroke-width="0.15">Dec</text>
<text x="620" y="601.6" font-size="8.15" text-anchor="middle" fill="#262626" stroke="#262626" stroke-width="0.15">11</text>
<text x="642.9" y="791.9" font-size="8.15" text-anchor="middle" fill="#262626" stroke="#262626" stroke-width="0.15">Jan</text>
<text x="642.9" y="601.6" font-size="8.15" text-anchor="middle" fill="#262626" stroke="#262626" stroke-width="0.15">12</text>
<text x="499.34" y="807.9" font-size="12.2" text-anchor="start" fill="#262626" textLength="35.31" lengthAdjust="spacingAndGlyphs">month</text>
<text x="483.75" y="592" font-size="12.2" text-anchor="start" fill="#262626" textLength="66.48" lengthAdjust="spacingAndGlyphs">lunar month</text>
<text x="363.9" y="725.73" font-size="12.2" text-anchor="start" fill="#262626" transform="rotate(-90 363.9 725.73)" textLength="67.13" lengthAdjust="spacingAndGlyphs">count (year)</text>
<text x="678.7" y="734.52" font-size="12.2" text-anchor="start" fill="#262626" transform="rotate(-90 678.7 734.52)" textLength="85.8" lengthAdjust="spacingAndGlyphs">percentage (%)</text>
<text x="419.72" y="570.7" font-size="24.8" text-anchor="start" fill="#000" textLength="25.26" lengthAdjust="spacingAndGlyphs">D.</text>
<text x="448.68" y="570.7" font-size="24.8" text-anchor="start" fill="#000" textLength="100.66" lengthAdjust="spacingAndGlyphs">Southern</text>
<text x="552.35" y="570.7" font-size="24.8" text-anchor="start" fill="#000" textLength="60.26" lengthAdjust="spacingAndGlyphs">China</text>
</g>
</svg>
</body>
</html>
